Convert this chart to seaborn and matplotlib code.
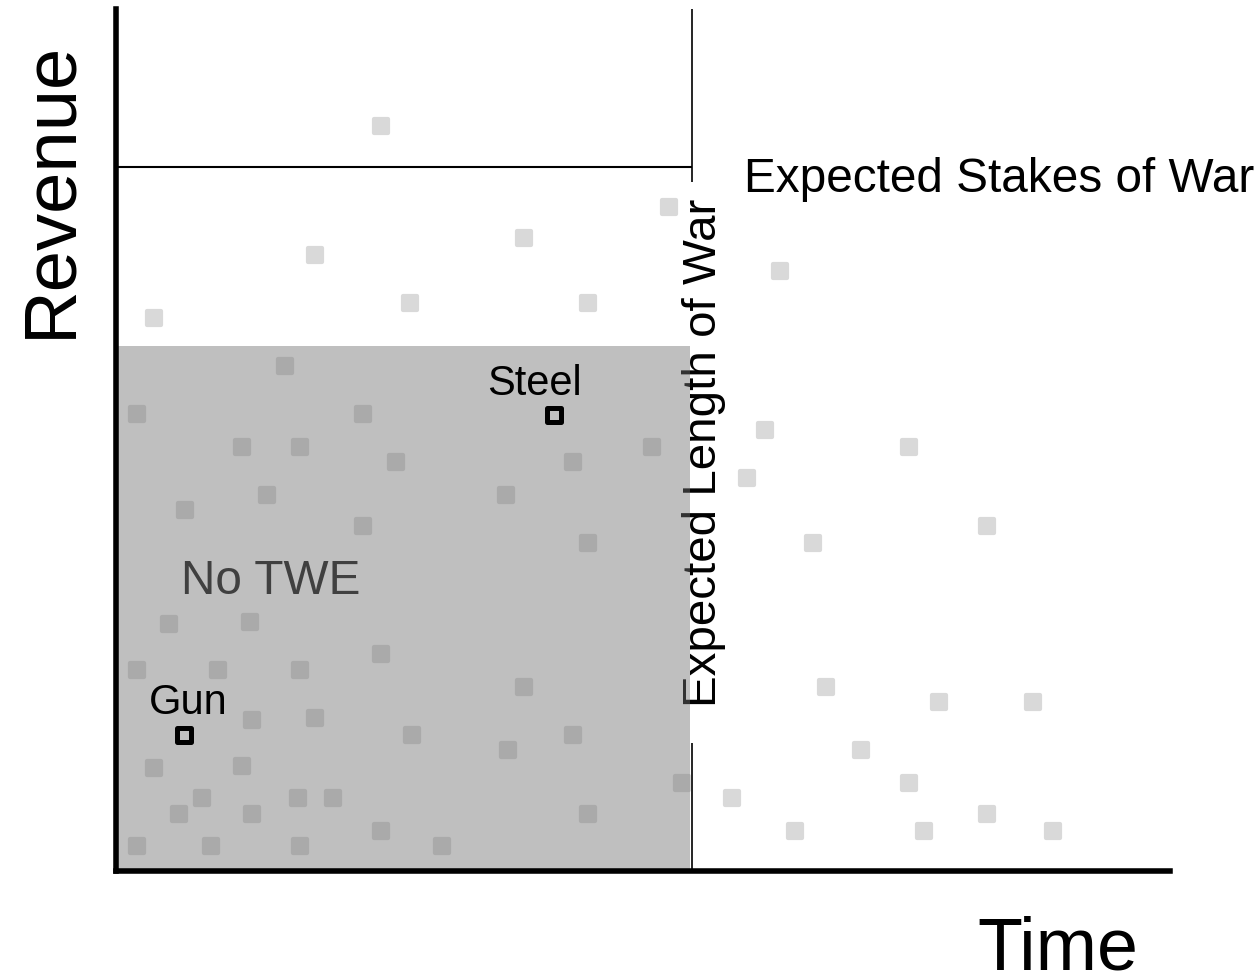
import matplotlib
matplotlib.use("Agg")
import matplotlib.pyplot as plt
import numpy as np
import pandas as pd
import seaborn as sns
from matplotlib.patches import Rectangle

# ---- data (units: time / revenue) ----
bg_time = [265, 199, 408, 553, 294, 472, 38,
           664, 649, 793, 631, 871, 697, 710, 823, 917, 745, 793, 616, 871, 679, 808, 937,
           169, 21, 247, 126, 184, 280, 457, 536, 151, 69, 390, 247, 472,
           53, 134, 265, 21, 102, 184, 408, 136, 199, 296, 457, 392, 38, 126, 566,
           86, 182, 217, 63, 136, 472, 265, 21, 95, 184, 326]
bg_revenue = [745, 616, 633, 664, 568, 568, 553,
              600, 441, 424, 393, 345, 328, 184, 169, 169, 121, 88, 73, 57, 40, 40, 40,
              505, 457, 457, 424, 424, 409, 409, 424, 376, 361, 376, 345, 328,
              247, 249, 217, 201, 201, 201, 184, 151, 153, 136, 136, 121, 103, 105, 88,
              73, 73, 73, 57, 57, 57, 40, 25, 25, 25, 25]

goods = ["Gun", "Steel"]
goods_time = [68, 438]
goods_revenue = [136, 456]

war_length = 576        # expected length of war (time)
war_stakes = 704        # expected stakes of war (revenue)
twe_revenue = 525       # upper revenue of the "No TWE" region
label_gap = [128, 689]  # part of the war-length line hidden behind its label

x_max = 1054
y_max = 862.5

# ---- style ----
sns.set_theme(style="white")
plt.rcParams["font.family"] = ["Liberation Sans", "DejaVu Sans"]

fig = plt.figure(figsize=(12.6, 9.78), dpi=100)
ax = fig.add_axes([116 / 1260, 106 / 978, 1054 / 1260, 862.5 / 978])

bg = pd.DataFrame({"Time": bg_time, "Revenue": bg_revenue})
sns.scatterplot(data=bg, x="Time", y="Revenue", ax=ax, marker="s", s=100,
                color="#d9d9d9", edgecolor="#d9d9d9", linewidth=3,
                joinstyle="round", zorder=1, legend=False)

# war length line (broken where its label sits)
ax.plot([war_length, war_length], [0, label_gap[0]], color="black", lw=1.2,
        solid_capstyle="butt", zorder=2)
ax.plot([war_length, war_length], [label_gap[1], y_max], color="black", lw=1.2,
        solid_capstyle="butt", zorder=2)
# war stakes line
ax.plot([0, war_length], [war_stakes, war_stakes], color="black", lw=1.5,
        solid_capstyle="butt", zorder=2)

ax.text(600, 419.5, "Expected Length of War", rotation=90, rotation_mode="anchor",
        ha="center", va="baseline", fontsize=34.2, color="black", zorder=2.5)
ax.text(628, 680, "Expected Stakes of War", ha="left", va="baseline",
        fontsize=34.4, color="black", clip_on=False, zorder=2.5)

# No TWE region
ax.add_patch(Rectangle((0, 0), war_length - 2, twe_revenue,
                       facecolor=(112 / 255, 112 / 255, 112 / 255), alpha=0.447,
                       edgecolor="none", zorder=3))
ax.text(65, 278, "No TWE", ha="left", va="baseline", fontsize=34.4,
        color="#404040", zorder=5)

# highlighted goods
gd = pd.DataFrame({"Time": goods_time, "Revenue": goods_revenue, "Good": goods})
sns.scatterplot(data=gd, x="Time", y="Revenue", ax=ax, marker="s", s=88,
                facecolor="none", edgecolor="black", linewidth=3.6,
                joinstyle="round", zorder=6, legend=False)
offsets = {"Gun": (3.2, 16.2), "Steel": (-13.8, 14.9)}
for g, t, r in zip(goods, goods_time, goods_revenue):
    ax.annotate(g, (t, r), xytext=offsets[g], textcoords="offset points",
                ha="center", va="baseline", fontsize=30, color="black", zorder=7)

ax.set_xlim(0, x_max)
ax.set_ylim(0, y_max)
ax.set_xticks([])
ax.set_yticks([])
for s in ["top", "right"]:
    ax.spines[s].set_visible(False)
for s in ["left", "bottom"]:
    ax.spines[s].set_linewidth(4)
    ax.spines[s].set_color("black")
    ax.spines[s].set_zorder(8)

ax.set_xlabel("Time", fontsize=53, color="black")
ax.set_ylabel("Revenue", fontsize=53.5, color="black")
ax.xaxis.label.set_ha("center")
ax.xaxis.label.set_va("baseline")
ax.xaxis.set_label_coords((1057.5 - 116) / 1054, (872 - 970) / 862.5)
ax.yaxis.label.set_ha("center")
ax.yaxis.label.set_va("baseline")
ax.yaxis.set_label_coords((70 - 116) / 1054, (872 - 189) / 862.5)

fig.savefig("out.png", dpi=100)
